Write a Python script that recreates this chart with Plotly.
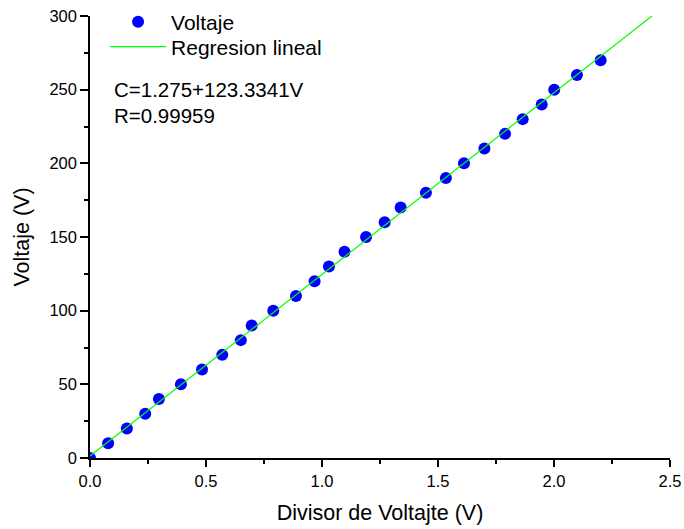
import plotly.graph_objects as go

# Data
divisor_v = [0.0, 0.078, 0.159, 0.238, 0.297, 0.392, 0.483, 0.570, 0.650, 0.697,
             0.790, 0.888, 0.968, 1.030, 1.097, 1.190, 1.270, 1.339, 1.448, 1.534,
             1.612, 1.700, 1.789, 1.865, 1.947, 2.001, 2.099, 2.201]
voltaje = [0, 10, 20, 30, 40, 50, 60, 70, 80, 90,
           100, 110, 120, 130, 140, 150, 160, 170, 180, 190,
           200, 210, 220, 230, 240, 250, 260, 270]

fit_intercept = 1.275
fit_slope = 123.3341
fit_r = 0.99959
fit_x = [0.0, (300 - fit_intercept) / fit_slope]
fit_y = [fit_intercept + fit_slope * x for x in fit_x]

FONT = "Liberation Sans, Arial, sans-serif"
TXT = 21

fig = go.Figure()
fig.add_trace(go.Scatter(
    x=divisor_v, y=voltaje, mode="markers", name="Voltaje",
    marker=dict(color="#0000FF", size=12, line=dict(width=0)),
    legend="legend",
))
fig.add_trace(go.Scatter(
    x=fit_x, y=fit_y, mode="lines", name="Regresion lineal",
    line=dict(color="#00FF00", width=1.2),
    legend="legend2",
))

axis_common = dict(
    showgrid=False, zeroline=False, showline=True, linecolor="black", linewidth=1.5,
    ticks="outside", tickwidth=1.5, tickcolor="black",
    tickfont=dict(family=FONT, size=16.5, color="black"),
    mirror=False,
)

fig.update_xaxes(
    range=[0, 2.5], tick0=0, dtick=0.5, tickformat=".1f", ticklen=7,
    minor=dict(ticks="outside", ticklen=4, tickwidth=1.5, tickcolor="black", dtick=0.25),
    title=dict(text="Divisor de Voltajte (V)", font=dict(family=FONT, size=21.5, color="black"), standoff=16),
    **axis_common,
)
fig.update_yaxes(
    range=[0, 300], tick0=0, dtick=50, ticklen=8,
    minor=dict(ticks="outside", ticklen=4, tickwidth=1.5, tickcolor="black", dtick=25),
    title=dict(text="Voltaje (V)", font=dict(family=FONT, size=21.5, color="black"), standoff=14),
    **axis_common,
)

fig.add_annotation(
    xref="paper", yref="paper", x=(112 - 90) / 580, y=(458 - 90) / 442,
    xanchor="left", yanchor="middle", showarrow=False,
    text=f"C={fit_intercept}+{fit_slope}V",
    font=dict(family=FONT, size=20.5, color="black"),
)
fig.add_annotation(
    xref="paper", yref="paper", x=(112 - 90) / 580, y=(458 - 116) / 442,
    xanchor="left", yanchor="middle", showarrow=False,
    text=f"R={fit_r}",
    font=dict(family=FONT, size=20.5, color="black"),
)

legend_common = dict(
    xanchor="left", yanchor="middle",
    bgcolor="rgba(0,0,0,0)", borderwidth=0,
    font=dict(family=FONT, size=TXT, color="black"),
    itemwidth=56,
)

fig.update_layout(
    width=684, height=529,
    margin=dict(l=90, r=14, t=16, b=71, autoexpand=False),
    paper_bgcolor="white", plot_bgcolor="white",
    showlegend=True,
    legend=dict(x=0.026, y=(458 - 22) / 442, **legend_common),
    legend2=dict(x=0.026, y=(458 - 47) / 442, **legend_common),
)

fig.write_html("out.html")
